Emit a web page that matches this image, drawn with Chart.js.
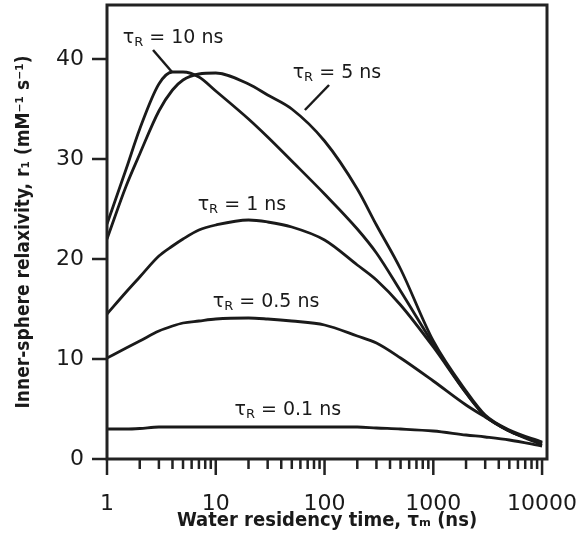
<!DOCTYPE html>
<html>
<head>
<meta charset="utf-8">
<script src="https://cdn.jsdelivr.net/npm/chart.js@4/dist/chart.umd.min.js"></script>
<style>
  html, body { margin: 0; padding: 0; background: #fff; }
  #wrap { width: 577px; height: 541px; }
</style>
</head>
<body>
<div id="wrap"><canvas id="myCanvas"></canvas></div>
<script>
// water residency time (ns)
var tauM = [1, 1.5, 2, 3, 4, 5, 7, 10, 20, 30, 50, 100, 200, 300, 500, 1000, 2000, 3000, 5000, 10000];

// inner-sphere relaxivity r1 for each tauR
var r1Tau10 = [23.5, 29.0, 33.0, 37.5, 38.7, 38.7, 38.2, 36.8, 34.0, 32.2, 29.8, 26.5, 23.0, 20.6, 16.8, 11.5, 6.6, 4.3, 2.8, 1.6];
var r1Tau5 = [22.0, 27.3, 30.5, 34.8, 36.9, 37.9, 38.5, 38.6, 37.5, 36.4, 35.0, 31.8, 27.0, 23.4, 19.0, 11.8, 6.8, 4.4, 2.9, 1.7];
var r1Tau1 = [14.5, 16.7, 18.2, 20.3, 21.3, 22.0, 22.9, 23.4, 23.9, 23.7, 23.2, 21.9, 19.4, 17.9, 15.4, 11.2, 6.6, 4.3, 2.8, 1.6];
var r1Tau05 = [10.1, 11.1, 11.8, 12.8, 13.3, 13.6, 13.8, 14.0, 14.1, 14.0, 13.8, 13.4, 12.3, 11.6, 10.1, 7.8, 5.4, 4.2, 2.8, 1.4];
var r1Tau01 = [3.0, 3.0, 3.05, 3.2, 3.2, 3.2, 3.2, 3.2, 3.2, 3.2, 3.2, 3.2, 3.2, 3.1, 3.0, 2.8, 2.4, 2.2, 1.9, 1.3];

var seriesNames = ["10 ns", "5 ns", "1 ns", "0.5 ns", "0.1 ns"];
var seriesValues = [r1Tau10, r1Tau5, r1Tau1, r1Tau05, r1Tau01];

var xTickValues = [1, 10, 100, 1000, 10000];
var yTickValues = [0, 10, 20, 30, 40];

// label anchors in data units (tauM, r1) and leader lines
var labelTau = [4.05, 130, 17.4, 29, 46];
var labelR1 = [42.1, 38.6, 25.4, 15.7, 4.9];
var leaderFrom = [[2.65, 40.9], [66, 34.9], null, null, null];
var leaderTo = [[3.96, 38.7], [110, 37.4], null, null, null];

var ink = "#1a1a1a";

function buildDatasets() {
    var sets = [];
    for (var i in seriesValues) {
        var pts = [];
        for (var j in tauM) {
            pts.push({ x: tauM[j], y: seriesValues[i][j] });
        }
        sets.push({
            label: "τR = " + seriesNames[i],
            data: pts,
            borderColor: ink,
            borderWidth: 2.8,
            pointRadius: 0,
            fill: false,
            cubicInterpolationMode: "monotone"
        });
    }
    return sets;
}

var framePlugin = {
    id: "frame",
    afterDraw: function (chart) {
        var ctx = chart.ctx;
        var a = chart.chartArea;
        var xs = chart.scales.x;
        var ys = chart.scales.y;
        ctx.save();
        ctx.strokeStyle = "#222";
        ctx.lineWidth = 3;
        ctx.strokeRect(a.left, a.top, a.right - a.left, a.bottom - a.top);

        // y ticks
        ctx.lineWidth = 2.5;
        ctx.beginPath();
        for (var i in yTickValues) {
            var py = ys.getPixelForValue(yTickValues[i]);
            ctx.moveTo(a.left - 15, py);
            ctx.lineTo(a.left, py);
        }
        // x ticks, decades long, minors short
        for (var d = 0; d < 4; d++) {
            for (var k = 1; k < 10; k++) {
                var px = xs.getPixelForValue(k * Math.pow(10, d));
                ctx.moveTo(px, a.bottom);
                ctx.lineTo(px, a.bottom + (k == 1 ? 16 : 10));
            }
        }
        var pLast = xs.getPixelForValue(10000);
        ctx.moveTo(pLast, a.bottom);
        ctx.lineTo(pLast, a.bottom + 16);
        ctx.stroke();

        // curve labels
        ctx.strokeStyle = ink;
        ctx.fillStyle = ink;
        ctx.textBaseline = "middle";
        ctx.textAlign = "left";
        for (var n in seriesNames) {
            var cx = xs.getPixelForValue(labelTau[n]);
            var cy = ys.getPixelForValue(labelR1[n]);
            var rest = " = " + seriesNames[n];
            ctx.font = "19px 'DejaVu Sans'";
            var wTau = ctx.measureText("τ").width;
            var wRest = ctx.measureText(rest).width;
            ctx.font = "13px 'DejaVu Sans'";
            var wR = ctx.measureText("R").width;
            var x0 = cx - (wTau + wR + wRest) / 2;
            ctx.font = "19px 'DejaVu Sans'";
            ctx.fillText("τ", x0, cy);
            ctx.font = "13px 'DejaVu Sans'";
            ctx.fillText("R", x0 + wTau, cy + 5);
            ctx.font = "19px 'DejaVu Sans'";
            ctx.fillText(rest, x0 + wTau + wR, cy);

            if (leaderFrom[n]) {
                ctx.lineWidth = 2.5;
                ctx.beginPath();
                ctx.moveTo(xs.getPixelForValue(leaderFrom[n][0]), ys.getPixelForValue(leaderFrom[n][1]));
                ctx.lineTo(xs.getPixelForValue(leaderTo[n][0]), ys.getPixelForValue(leaderTo[n][1]));
                ctx.stroke();
            }
        }
        ctx.restore();
    }
};

function graph() {
    var chartdata = { datasets: buildDatasets() };

    new Chart(document.getElementById("myCanvas"), {
        type: "line",
        data: chartdata,
        plugins: [framePlugin],
        options: {
            responsive: true,
            maintainAspectRatio: false,
            animation: false,
            layout: { padding: { left: 0, right: 30, top: 5, bottom: 0 } },
            plugins: { legend: { display: false }, tooltip: { enabled: false } },
            scales: {
                x: {
                    type: "logarithmic",
                    min: 1,
                    max: 11100,
                    grid: { display: false },
                    border: { display: false },
                    afterBuildTicks: function (scale) {
                        scale.ticks = xTickValues.map(function (v) { return { value: v }; });
                    },
                    afterFit: function (scale) {
                        scale.height = 82;
                        scale.paddingLeft = 0;
                        scale.paddingRight = 0;
                    },
                    ticks: {
                        autoSkip: false,
                        maxRotation: 0,
                        padding: 24,
                        color: "#1a1a1a",
                        font: { family: "DejaVu Sans", size: 22 },
                        callback: function (v) { return String(v); }
                    },
                    title: {
                        display: true,
                        text: "Water residency time, τₘ (ns)",
                        color: "#1a1a1a",
                        padding: { top: 0, bottom: 8 },
                        font: { family: "DejaVu Sans Condensed", size: 20, weight: "bold" }
                    }
                },
                y: {
                    min: 0,
                    max: 45.4,
                    grid: { display: false },
                    border: { display: false },
                    afterBuildTicks: function (scale) {
                        scale.ticks = yTickValues.map(function (v) { return { value: v }; });
                    },
                    afterFit: function (scale) {
                        scale.width = 107;
                        scale.paddingTop = 0;
                        scale.paddingBottom = 0;
                    },
                    ticks: {
                        padding: 15,
                        color: "#1a1a1a",
                        font: { family: "DejaVu Sans", size: 22 }
                    },
                    title: {
                        display: true,
                        text: "Inner-sphere relaxivity, r₁ (mM⁻¹ s⁻¹)",
                        color: "#1a1a1a",
                        padding: { top: 13, bottom: 0 },
                        font: { family: "DejaVu Sans Condensed", size: 19, weight: "bold" }
                    }
                }
            }
        }
    });
}

graph();
</script>
</body>
</html>
